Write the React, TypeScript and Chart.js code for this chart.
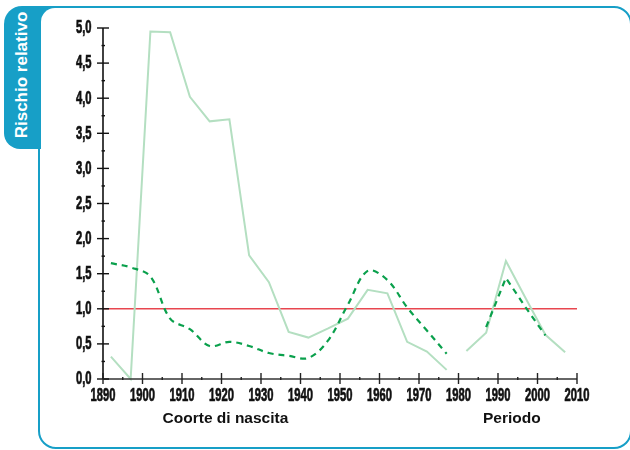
import React, { useEffect, useRef } from "react";
import { Chart, registerables } from "chart.js";
Chart.register(...registerables);

// ---- Data ----
const cohortYears = [1892, 1897, 1902, 1907, 1912, 1917, 1922, 1927, 1932, 1937, 1942, 1947, 1952, 1957, 1962, 1967, 1972, 1977];
const cohortSolid = [0.32, 0.0, 4.95, 4.94, 4.02, 3.67, 3.7, 1.76, 1.38, 0.67, 0.59, 0.72, 0.86, 1.27, 1.22, 0.53, 0.39, 0.13];
const cohortDashed = [1.65, 1.59, 1.46, 0.86, 0.71, 0.47, 0.53, 0.47, 0.37, 0.33, 0.3, 0.55, 1.06, 1.54, 1.41, 1.02, 0.69, 0.36];
const periodSolidYears = [1982, 1987, 1992, 1997, 2002, 2007];
const periodSolid = [0.4, 0.66, 1.68, 1.15, 0.63, 0.38];
const periodDashedYears = [1987, 1992, 1997, 2002];
const periodDashed = [0.74, 1.44, 1.02, 0.62];
const refYears = [1890, 2010];
const refValues = [1, 1];
const axisTitles = ["Coorte di nascita", "Periodo"];
const axisTitleYears = [1921, 1993.5];
const yAxisTitle = "Rischio relativo";

const TEAL = "#179fc7";
const LIGHT = "#b4dfc1";
const DARK = "#0aa04c";
const RED = "#e8464f";
const TICK_FONT = "bold 17.5px 'Liberation Sans', Arial, sans-serif";
const TICK_SCALE = 0.64;

const pts = (xs: number[], ys: number[]) => xs.map((x, i) => ({ x, y: ys[i] }));

function narrowText(ctx: any, text: string, x: number, y: number, align: "right" | "center") {
  ctx.save();
  ctx.translate(x, y);
  ctx.scale(TICK_SCALE, 1);
  ctx.textAlign = align;
  ctx.lineWidth = 0.7;
  ctx.strokeStyle = "#111";
  ctx.fillText(text, 0, 0);
  ctx.strokeText(text, 0, 0);
  ctx.restore();
}

const axesPlugin = {
  id: "customAxes",
  afterDraw(chart: any) {
    const ctx = chart.ctx;
    const xs = chart.scales.x;
    const ys = chart.scales.y;
    const left = xs.getPixelForValue(xs.min);
    const right = xs.getPixelForValue(xs.max);
    const bottom = ys.getPixelForValue(ys.min);
    const top = ys.getPixelForValue(ys.max);
    ctx.save();
    ctx.strokeStyle = "#111";
    ctx.lineWidth = 1.6;
    ctx.beginPath();
    ctx.moveTo(left, top);
    ctx.lineTo(left, bottom);
    ctx.stroke();
    ctx.strokeStyle = "#333";
    ctx.beginPath();
    ctx.moveTo(left, bottom);
    ctx.lineTo(right, bottom);
    ctx.stroke();
    // y ticks (major + minor)
    ctx.strokeStyle = "#111";
    ctx.lineWidth = 1.4;
    for (let i = 0; i <= 20; i++) {
      const v = i * 0.25;
      const py = ys.getPixelForValue(v);
      const major = i % 2 === 0;
      ctx.beginPath();
      if (major) {
        ctx.moveTo(left - 6, py);
        ctx.lineTo(left + 6, py);
      } else {
        ctx.moveTo(left - 1.5, py);
        ctx.lineTo(left + 2, py);
      }
      ctx.stroke();
    }
    // x ticks
    ctx.strokeStyle = "#222";
    for (let yr = 1890; yr <= 2010; yr += 5) {
      const px = xs.getPixelForValue(yr);
      const major = yr % 10 === 0;
      ctx.beginPath();
      if (major) {
        ctx.moveTo(px, bottom - 6);
        ctx.lineTo(px, bottom + 5);
      } else {
        ctx.moveTo(px, bottom - 2);
        ctx.lineTo(px, bottom + 1);
      }
      ctx.stroke();
    }
    // tick labels from the scales' own ticks
    ctx.fillStyle = "#111";
    ctx.font = TICK_FONT;
    ctx.textBaseline = "middle";
    ys.ticks.forEach((t: any) => {
      narrowText(ctx, Number(t.value).toFixed(1).replace(".", ","), left - 11.5, ys.getPixelForValue(t.value) + 0.5, "right");
    });
    ctx.textBaseline = "top";
    xs.ticks.forEach((t: any) => {
      narrowText(ctx, String(t.value), xs.getPixelForValue(t.value), bottom + 8, "center");
    });
    // axis titles
    ctx.font = "bold 15.5px 'Liberation Sans', Arial, sans-serif";
    ctx.textAlign = "center";
    ctx.textBaseline = "middle";
    axisTitles.forEach((t, i) => {
      ctx.fillText(t, xs.getPixelForValue(axisTitleYears[i]), 419);
    });
    ctx.restore();
  },
};

export default function App() {
  const ref = useRef<HTMLCanvasElement>(null);
  useEffect(() => {
    if (!ref.current) return;
    const chart = new Chart(ref.current, {
      type: "line",
      data: {
        datasets: [
          { data: pts(cohortYears, cohortDashed), borderColor: DARK, borderWidth: 2.2, borderDash: [6, 5], tension: 0.35, pointRadius: 0, order: 1 },
          { data: pts(periodDashedYears, periodDashed), borderColor: DARK, borderWidth: 2.2, borderDash: [6, 5], tension: 0, pointRadius: 0, order: 1 },
          { data: pts(cohortYears, cohortSolid), borderColor: LIGHT, borderWidth: 2, tension: 0, pointRadius: 0, order: 2 },
          { data: pts(periodSolidYears, periodSolid), borderColor: LIGHT, borderWidth: 2, tension: 0, pointRadius: 0, order: 2 },
          { data: pts(refYears, refValues), borderColor: RED, borderWidth: 1.5, tension: 0, pointRadius: 0, order: 3 },
        ] as any,
      },
      options: {
        animation: false,
        responsive: false,
        events: [],
        layout: { padding: { left: 0, top: 28, right: 53, bottom: 0 } },
        plugins: { legend: { display: false }, tooltip: { enabled: false } },
        datasets: { line: { clip: false as any } },
        scales: {
          x: {
            type: "linear",
            min: 1890,
            max: 2010,
            grid: { display: false },
            border: { display: false },
            afterFit: (s: any) => { s.height = 71; },
            ticks: { display: false, stepSize: 10, autoSkip: false },
          },
          y: {
            type: "linear",
            min: 0,
            max: 5,
            grid: { display: false },
            border: { display: false },
            afterFit: (s: any) => { s.width = 103; },
            ticks: { display: false, stepSize: 0.5 },
          },
        },
      },
      plugins: [axesPlugin],
    });
    return () => chart.destroy();
  }, []);

  return (
    <div style={{ position: "fixed", left: 0, top: 0, width: 630, height: 450, background: "#fff", overflow: "hidden" }}>
      <div style={{ position: "absolute", left: 38, top: 5.5, width: 594, height: 443.5, boxSizing: "border-box", border: `2.6px solid ${TEAL}`, borderRadius: 18 }} />
      <div style={{ position: "absolute", left: 4, top: 5.5, width: 52, height: 143, background: TEAL, borderRadius: "18px 0 0 16px" }} />
      <div style={{ position: "absolute", left: 40.6, top: 8.1, width: 30, height: 150, background: "#fff", borderTopLeftRadius: 14 }} />
      <div style={{ position: "absolute", left: 22, top: 75, width: 0, height: 0 }}>
        <div style={{ position: "absolute", left: 0, top: 0, transform: "translate(-50%, -50%) rotate(-90deg)", whiteSpace: "nowrap", color: "#fff", fontFamily: "'Liberation Sans', Arial, sans-serif", fontWeight: "bold", fontSize: 17, lineHeight: "20px" }}>
          {yAxisTitle}
        </div>
      </div>
      <canvas ref={ref} width={630} height={450} style={{ position: "absolute", left: 0, top: 0, width: 630, height: 450 }} />
    </div>
  );
}
